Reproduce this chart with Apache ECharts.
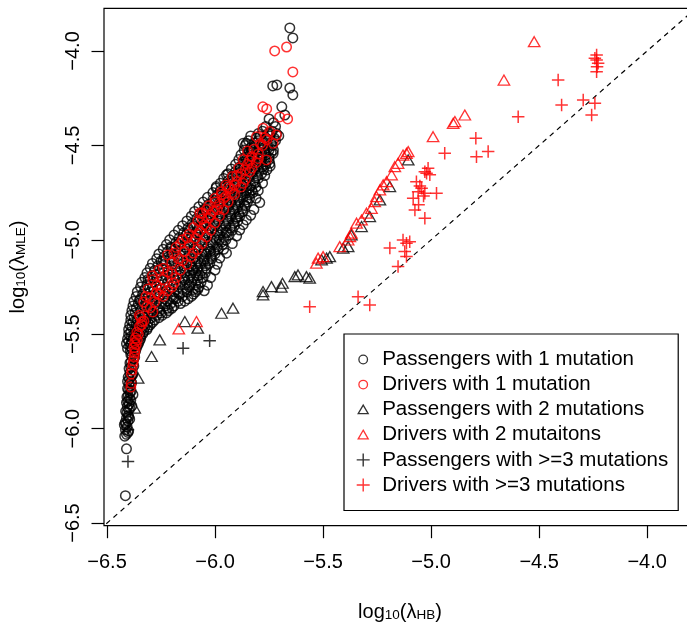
<!DOCTYPE html>
<html><head><meta charset="utf-8">
<script src="https://cdn.jsdelivr.net/npm/echarts@6/dist/echarts.min.js"></script>
<style>html,body{margin:0;padding:0;background:#fff}#c{width:687px;height:629px}</style>
</head><body><div id="c"></div>
<script>
// ---- tick labels ----
const xTicks = [-6.5, -6.0, -5.5, -5.0, -4.5, -4.0];
const yTicks = [-6.5, -6.0, -5.5, -5.0, -4.5, -4.0];
const axisRange = [-6.514, -3.774];
const refLine = [[-7, -7], [-3, -3]];
const seriesNames = ['Passengers with 1 mutation', 'Drivers with 1 mutation', 'Passengers with 2 mutations',
  'Drivers with 2 mutaitons', 'Passengers with >=3 mutations', 'Drivers with >=3 mutations'];

// ---- data: [log10(lambda_HB), log10(lambda_MLE)] ----
const passengers1 = [
[-6.415,-6.355],[-6.41,-6.107],[-6.418,-6.04],[-6.41,-6.03],[-6.403,-6.02],[-6.415,-6.005],[-6.407,-5.99],[-6.412,-5.975],[-6.42,-5.98],
[-6.403,-5.96],[-6.395,-5.95],[-6.41,-5.945],[-6.402,-5.93],[-6.408,-5.915],[-6.40,-5.90],[-6.406,-5.885],[-6.385,-5.88],[-6.398,-5.87],
[-6.404,-5.855],[-6.396,-5.84],[-6.402,-5.825],[-6.38,-5.82],[-6.394,-5.81],[-6.40,-5.795],[-6.392,-5.78],[-6.398,-5.765],[-6.39,-5.75],
[-6.405,-5.75],[-6.396,-5.735],[-6.386,-5.72],[-6.394,-5.705],[-6.384,-5.69],[-6.39,-5.675],[-6.38,-5.66],[-6.388,-5.645],[-6.376,-5.63],
[-6.384,-5.615],[-6.372,-5.60],
[-6.40,-6.012],[-6.416,-5.967],[-6.399,-5.938],[-6.414,-5.908],[-6.393,-5.892],[-6.41,-5.862],[-6.39,-5.848],[-6.408,-5.832],
[-6.388,-5.802],[-6.405,-5.788],[-6.386,-5.757],[-6.402,-5.727],[-6.38,-5.712],[-6.398,-5.682],[-6.376,-5.668],[-6.394,-5.652],
[-6.372,-5.622],[-6.39,-5.607],[-6.368,-5.59],[-6.392,-5.588],
[-6.405,-5.575],[-6.385,-5.575],[-6.365,-5.575],
[-6.41,-5.55],[-6.39,-5.55],[-6.37,-5.55],[-6.355,-5.55],
[-6.405,-5.525],[-6.38,-5.525],[-6.36,-5.525],[-6.345,-5.525],
[-6.40,-5.50],[-6.375,-5.50],[-6.35,-5.50],[-6.335,-5.50],
[-6.40,-5.475],[-6.37,-5.475],[-6.34,-5.475],[-6.315,-5.475],
[-6.395,-5.45],[-6.365,-5.45],[-6.33,-5.45],[-6.30,-5.45],
[-6.39,-5.425],[-6.36,-5.425],[-6.32,-5.425],[-6.28,-5.425],
[-6.39,-5.40],[-6.35,-5.40],[-6.31,-5.40],[-6.27,-5.40],[-6.245,-5.40],
[-6.385,-5.375],[-6.345,-5.375],[-6.30,-5.375],[-6.255,-5.375],[-6.215,-5.375],
[-6.38,-5.35],[-6.33,-5.35],[-6.28,-5.35],[-6.23,-5.35],[-6.19,-5.35],
[-6.375,-5.325],[-6.32,-5.325],[-6.27,-5.325],[-6.22,-5.325],[-6.17,-5.325],[-6.14,-5.325],
[-6.365,-5.30],[-6.31,-5.30],[-6.26,-5.30],[-6.20,-5.30],[-6.15,-5.30],[-6.11,-5.30],
[-6.36,-5.275],[-6.30,-5.275],[-6.24,-5.275],[-6.19,-5.275],[-6.13,-5.275],[-6.09,-5.275],
[-6.345,-5.25],[-6.29,-5.25],[-6.23,-5.25],[-6.17,-5.25],[-6.12,-5.25],[-6.075,-5.25],
[-6.34,-5.225],[-6.28,-5.225],[-6.22,-5.225],[-6.16,-5.225],[-6.11,-5.225],[-6.065,-5.225],
[-6.325,-5.20],[-6.27,-5.20],[-6.21,-5.20],[-6.15,-5.20],[-6.10,-5.20],[-6.055,-5.20],
[-6.315,-5.175],[-6.255,-5.175],[-6.195,-5.175],[-6.14,-5.175],[-6.09,-5.175],[-6.045,-5.175],
[-6.30,-5.15],[-6.245,-5.15],[-6.185,-5.15],[-6.13,-5.15],[-6.08,-5.15],[-6.04,-5.15],
[-6.29,-5.125],[-6.23,-5.125],[-6.17,-5.125],[-6.115,-5.125],[-6.065,-5.125],[-6.025,-5.125],
[-6.27,-5.10],[-6.21,-5.10],[-6.16,-5.10],[-6.10,-5.10],[-6.05,-5.10],[-6.015,-5.10],
[-6.26,-5.075],[-6.20,-5.075],[-6.14,-5.075],[-6.09,-5.075],[-6.04,-5.075],[-6.00,-5.075],
[-6.24,-5.05],[-6.185,-5.05],[-6.13,-5.05],[-6.075,-5.05],[-6.025,-5.05],[-5.985,-5.05],
[-6.225,-5.025],[-6.17,-5.025],[-6.115,-5.025],[-6.06,-5.025],[-6.01,-5.025],[-5.965,-5.025],
[-6.21,-5.00],[-6.155,-5.00],[-6.10,-5.00],[-6.05,-5.00],[-5.995,-5.00],[-5.95,-5.00],
[-6.19,-4.975],[-6.135,-4.975],[-6.08,-4.975],[-6.03,-4.975],[-5.98,-4.975],[-5.935,-4.975],
[-6.17,-4.95],[-6.12,-4.95],[-6.065,-4.95],[-6.015,-4.95],[-5.965,-4.95],[-5.92,-4.95],
[-6.15,-4.925],[-6.10,-4.925],[-6.05,-4.925],[-6.00,-4.925],[-5.95,-4.925],[-5.91,-4.925],
[-6.13,-4.90],[-6.08,-4.90],[-6.03,-4.90],[-5.985,-4.90],[-5.94,-4.90],[-5.895,-4.90],
[-6.11,-4.875],[-6.06,-4.875],[-6.015,-4.875],[-5.97,-4.875],[-5.925,-4.875],[-5.885,-4.875],
[-6.095,-4.85],[-6.045,-4.85],[-6.00,-4.85],[-5.955,-4.85],[-5.91,-4.85],[-5.87,-4.85],
[-6.075,-4.825],[-6.025,-4.825],[-5.98,-4.825],[-5.94,-4.825],[-5.895,-4.825],
[-6.055,-4.80],[-6.01,-4.80],[-5.965,-4.80],[-5.925,-4.80],[-5.885,-4.80],[-5.85,-4.80],
[-6.035,-4.775],[-5.99,-4.775],[-5.95,-4.775],[-5.91,-4.775],[-5.87,-4.775],
[-6.01,-4.75],[-5.97,-4.75],[-5.93,-4.75],[-5.895,-4.75],[-5.855,-4.75],[-5.825,-4.75],
[-5.995,-4.725],[-5.955,-4.725],[-5.915,-4.725],[-5.875,-4.725],[-5.84,-4.725],
[-5.975,-4.70],[-5.935,-4.70],[-5.895,-4.70],[-5.86,-4.70],[-5.815,-4.70],
[-5.96,-4.675],[-5.92,-4.675],[-5.88,-4.675],[-5.845,-4.675],[-5.80,-4.675],
[-5.947,-4.656],[-5.94,-4.65],[-5.90,-4.65],[-5.865,-4.65],[-5.83,-4.65],[-5.785,-4.65],
[-5.925,-4.625],[-5.885,-4.625],[-5.85,-4.625],[-5.815,-4.625],[-5.775,-4.625],
[-5.905,-4.60],[-5.87,-4.60],[-5.835,-4.60],[-5.80,-4.60],[-5.765,-4.60],[-5.747,-4.595],
[-5.89,-4.575],[-5.855,-4.575],[-5.82,-4.575],[-5.785,-4.575],[-5.75,-4.575],
[-5.88,-4.55],[-5.84,-4.55],[-5.80,-4.55],[-5.765,-4.55],[-5.731,-4.542],[-5.831,-4.533],
[-5.865,-4.525],[-5.83,-4.525],[-5.79,-4.525],[-5.75,-4.525],[-5.73,-4.525],
[-5.86,-4.50],[-5.815,-4.50],[-5.775,-4.50],[-5.735,-4.50],[-5.855,-4.489],
[-5.845,-4.475],[-5.80,-4.475],[-5.76,-4.475],[-5.72,-4.475],
[-5.835,-4.45],[-5.79,-4.45],[-5.745,-4.45],[-5.705,-4.45],
[-5.78,-4.425],[-5.735,-4.425],[-5.765,-4.40],[-5.72,-4.40],[-5.73,-4.38],[-5.75,-4.36],
[-5.677,-4.339],[-5.691,-4.296],[-5.640,-4.233],[-5.654,-4.196],[-5.733,-4.185],[-5.714,-4.180],
[-5.640,-3.931],[-5.654,-3.878],
[-6.395,-5.5625],[-6.375,-5.5625],[-6.36,-5.5625],
[-6.40,-5.5375],[-6.385,-5.5375],[-6.365,-5.5375],[-6.35,-5.5375],
[-6.39,-5.5125],[-6.37,-5.5125],[-6.345,-5.5125],
[-6.39,-5.4875],[-6.36,-5.4875],[-6.33,-5.4875],
[-6.385,-5.4625],[-6.355,-5.4625],[-6.325,-5.4625],[-6.31,-5.4625],
[-6.38,-5.4375],[-6.345,-5.4375],[-6.31,-5.4375],[-6.29,-5.4375],
[-6.375,-5.4125],[-6.33,-5.4125],[-6.295,-5.4125],[-6.26,-5.4125],
[-6.37,-5.3875],[-6.325,-5.3875],[-6.285,-5.3875],[-6.25,-5.3875],[-6.225,-5.3875],
[-6.365,-5.3625],[-6.31,-5.3625],[-6.265,-5.3625],[-6.22,-5.3625],[-6.20,-5.3625],
[-6.355,-5.3375],[-6.30,-5.3375],[-6.25,-5.3375],[-6.205,-5.3375],[-6.16,-5.3375],
[-6.345,-5.3125],[-6.29,-5.3125],[-6.235,-5.3125],[-6.18,-5.3125],[-6.125,-5.3125],
[-6.335,-5.2875],[-6.28,-5.2875],[-6.225,-5.2875],[-6.165,-5.2875],[-6.10,-5.2875],
[-6.325,-5.2625],[-6.265,-5.2625],[-6.21,-5.2625],[-6.15,-5.2625],[-6.10,-5.2625],[-6.08,-5.2625],
[-6.315,-5.2375],[-6.255,-5.2375],[-6.195,-5.2375],[-6.14,-5.2375],[-6.09,-5.2375],
[-6.30,-5.2125],[-6.245,-5.2125],[-6.185,-5.2125],[-6.125,-5.2125],[-6.08,-5.2125],
[-6.29,-5.1875],[-6.23,-5.1875],[-6.17,-5.1875],[-6.115,-5.1875],[-6.07,-5.1875],
[-6.28,-5.1625],[-6.215,-5.1625],[-6.16,-5.1625],[-6.105,-5.1625],[-6.06,-5.1625],
[-6.265,-5.1375],[-6.20,-5.1375],[-6.145,-5.1375],[-6.09,-5.1375],[-6.045,-5.1375],
[-6.25,-5.1125],[-6.19,-5.1125],[-6.13,-5.1125],[-6.08,-5.1125],[-6.035,-5.1125],
[-6.235,-5.0875],[-6.175,-5.0875],[-6.12,-5.0875],[-6.065,-5.0875],[-6.02,-5.0875],
[-6.22,-5.0625],[-6.16,-5.0625],[-6.105,-5.0625],[-6.05,-5.0625],[-6.005,-5.0625],
[-6.205,-5.0375],[-6.14,-5.0375],[-6.085,-5.0375],[-6.035,-5.0375],[-5.99,-5.0375],
[-6.18,-5.0125],[-6.125,-5.0125],[-6.07,-5.0125],[-6.02,-5.0125],[-5.97,-5.0125],
[-6.165,-4.9875],[-6.11,-4.9875],[-6.055,-4.9875],[-6.005,-4.9875],[-5.96,-4.9875],
[-6.145,-4.9625],[-6.09,-4.9625],[-6.04,-4.9625],[-5.99,-4.9625],[-5.945,-4.9625],
[-6.125,-4.9375],[-6.075,-4.9375],[-6.025,-4.9375],[-5.975,-4.9375],[-5.93,-4.9375],
[-6.105,-4.9125],[-6.055,-4.9125],[-6.005,-4.9125],[-5.96,-4.9125],[-5.915,-4.9125],
[-6.085,-4.8875],[-6.04,-4.8875],[-5.99,-4.8875],[-5.945,-4.8875],[-5.905,-4.8875],
[-6.07,-4.8625],[-6.02,-4.8625],[-5.975,-4.8625],[-5.93,-4.8625],[-5.89,-4.8625],
[-6.05,-4.8375],[-6.00,-4.8375],[-5.96,-4.8375],[-5.915,-4.8375],[-5.875,-4.8375],
[-6.03,-4.8125],[-5.985,-4.8125],[-5.945,-4.8125],[-5.905,-4.8125],[-5.865,-4.8125],
[-6.01,-4.7875],[-5.97,-4.7875],[-5.93,-4.7875],[-5.89,-4.7875],[-5.855,-4.7875],
[-5.99,-4.7625],[-5.95,-4.7625],[-5.91,-4.7625],[-5.875,-4.7625],[-5.84,-4.7625],
[-5.975,-4.7375],[-5.935,-4.7375],[-5.895,-4.7375],[-5.855,-4.7375],[-5.83,-4.7375],
[-5.955,-4.7125],[-5.915,-4.7125],[-5.875,-4.7125],[-5.835,-4.7125],
[-5.94,-4.6875],[-5.90,-4.6875],[-5.86,-4.6875],[-5.82,-4.6875],
[-5.92,-4.6625],[-5.88,-4.6625],[-5.845,-4.6625],[-5.805,-4.6625],
[-5.905,-4.6375],[-5.865,-4.6375],[-5.83,-4.6375],[-5.795,-4.6375],
[-5.885,-4.6125],[-5.85,-4.6125],[-5.815,-4.6125],[-5.78,-4.6125],
[-5.87,-4.5875],[-5.835,-4.5875],[-5.80,-4.5875],[-5.765,-4.5875],
[-5.86,-4.5625],[-5.82,-4.5625],[-5.785,-4.5625],[-5.75,-4.5625],
[-5.845,-4.5375],[-5.81,-4.5375],[-5.77,-4.5375],[-5.74,-4.5375],
[-5.835,-4.5125],[-5.795,-4.5125],[-5.755,-4.5125],
[-5.82,-4.4875],[-5.78,-4.4875],[-5.74,-4.4875],
[-5.81,-4.4625],[-5.765,-4.4625],[-5.725,-4.4625],
[-5.80,-4.4375],[-5.755,-4.4375],[-5.715,-4.4375],
[-5.793,-4.803],[-5.81,-4.78],[-5.82,-4.84],[-5.855,-4.895],[-5.87,-4.92],[-5.886,-4.948],[-5.90,-4.98],
[-5.92,-5.02],[-5.947,-5.071],[-5.978,-5.097],[-5.99,-5.13],[-6.00,-5.16],[-6.02,-5.20],[-5.80,-4.74],
[-5.78,-4.70],[-5.77,-4.66],[-5.76,-4.63],[-5.745,-4.61],[-5.835,-4.87],[-5.96,-5.05],[-6.035,-5.24],[-6.05,-5.27],
[-6.202,-5.044],[-6.048,-4.842],[-5.994,-4.718],[-5.870,-4.489],[-6.24,-5.11],[-6.31,-5.21],[-6.35,-5.32],
[-6.17,-5.28],[-6.12,-5.24],[-6.08,-5.19],[-6.14,-5.21],[-6.19,-5.31],[-6.10,-5.16],[-6.05,-5.11],[-6.11,-5.14],
[-6.02,-5.06],[-5.98,-5.00],[-5.95,-4.96],[-5.90,-4.88],[-5.86,-4.82],[-5.84,-4.78],[-5.81,-4.72]
];
const drivers1 = [
[-6.39,-5.78],[-6.388,-5.76],[-6.387,-5.71],[-6.385,-5.69],[-6.38,-5.66],[-6.378,-5.64],[-6.375,-5.62],[-6.372,-5.60],
[-6.37,-5.585],[-6.375,-5.57],[-6.365,-5.555],[-6.372,-5.545],[-6.36,-5.53],[-6.368,-5.52],[-6.355,-5.50],[-6.362,-5.49],
[-6.35,-5.46],[-6.34,-5.45],[-6.339,-5.435],[-6.33,-5.43],[-6.345,-5.41],[-6.288,-5.382],[-6.316,-5.355],
[-6.33,-5.33],[-6.30,-5.31],[-6.26,-5.29],[-6.27,-5.28],[-6.22,-5.27],[-6.31,-5.26],[-6.27,-5.24],[-6.19,-5.23],
[-6.24,-5.21],[-6.288,-5.212],[-6.29,-5.19],[-6.20,-5.18],[-6.16,-5.16],[-6.24,-5.15],[-6.13,-5.13],[-6.20,-5.12],
[-6.17,-5.10],[-6.11,-5.09],[-6.22,-5.08],[-6.14,-5.06],[-6.08,-5.05],[-6.18,-5.04],[-6.12,-5.03],[-6.06,-5.02],
[-6.15,-5.00],[-6.09,-4.99],[-6.04,-4.985],[-6.12,-4.97],[-6.07,-4.955],[-6.02,-4.95],[-6.10,-4.935],[-6.05,-4.92],
[-6.00,-4.91],[-6.08,-4.90],[-6.03,-4.885],[-5.98,-4.875],[-6.06,-4.86],[-6.01,-4.85],[-6.07,-4.858],[-5.96,-4.84],
[-6.03,-4.82],[-5.98,-4.81],[-5.94,-4.80],[-6.00,-4.78],[-5.95,-4.77],[-5.91,-4.76],[-5.97,-4.745],[-5.93,-4.73],
[-5.88,-4.72],[-5.95,-4.71],[-5.90,-4.69],[-5.86,-4.68],[-5.92,-4.665],[-5.88,-4.65],[-5.84,-4.64],[-5.89,-4.62],
[-5.85,-4.60],[-5.81,-4.59],[-5.87,-4.575],[-5.762,-4.577],[-5.83,-4.56],[-5.80,-4.545],[-5.85,-4.53],[-5.79,-4.49],
[-5.731,-4.489],[-5.76,-4.47],[-5.808,-4.454],[-5.716,-4.445],[-5.747,-4.427],[-5.778,-4.409],
[-5.664,-4.360],[-5.701,-4.349],[-5.761,-4.307],[-5.779,-4.296],[-5.640,-4.111],[-5.724,-4.000],[-5.669,-3.979],
[-6.35,-5.40],[-6.30,-5.36],[-6.28,-5.33],[-6.24,-5.30],[-6.32,-5.30],[-6.20,-5.25],[-6.25,-5.26],[-6.18,-5.20],
[-6.22,-5.17],[-6.26,-5.16],[-6.15,-5.11],[-6.19,-5.07],[-6.10,-5.07],[-6.16,-5.02],[-6.13,-4.99],[-6.08,-4.97],
[-6.04,-4.93],[-6.06,-4.89],[-6.02,-4.87],[-6.04,-4.84],[-5.99,-4.84],[-6.00,-4.80],[-5.96,-4.78],[-5.97,-4.76],
[-5.92,-4.75],[-5.94,-4.72],[-5.91,-4.71],[-5.87,-4.70],[-5.90,-4.66],[-5.86,-4.63],[-5.83,-4.62],[-5.84,-4.58],
[-5.80,-4.57],[-5.82,-4.52],[-5.78,-4.50],[-5.77,-4.46]
];
const passengers2 = [
[-6.372,-5.891],[-6.356,-5.733],[-6.294,-5.618],[-6.256,-5.530],[-6.140,-5.433],[-6.080,-5.468],[-5.970,-5.389],
[-5.917,-5.362],[-5.778,-5.292],[-5.778,-5.274],[-5.739,-5.248],[-5.688,-5.230],[-5.693,-5.251],[-5.631,-5.195],
[-5.616,-5.186],[-5.577,-5.195],[-5.562,-5.203],[-5.507,-5.106],[-5.484,-5.097],[-5.469,-5.089],[-5.407,-5.044],
[-5.384,-5.036],[-5.369,-4.974],[-5.322,-4.930],[-5.284,-4.877],[-5.237,-4.789],[-5.191,-4.718],[-5.106,-4.577]
];
const drivers2 = [
[-6.168,-5.472],[-6.086,-5.433],[-5.531,-5.124],[-5.523,-5.097],[-5.500,-5.089],[-5.423,-5.036],[-5.384,-5.001],
[-5.376,-4.983],[-5.369,-4.965],[-5.345,-4.912],[-5.322,-4.895],[-5.299,-4.859],[-5.276,-4.833],[-5.261,-4.798],
[-5.253,-4.771],[-5.237,-4.736],[-5.222,-4.709],[-5.206,-4.692],[-5.183,-4.656],[-5.168,-4.613],[-5.153,-4.595],
[-5.130,-4.551],[-5.114,-4.542],[-5.106,-4.533],[-4.991,-4.454],[-4.898,-4.383],[-4.890,-4.374],[-4.844,-4.339],
[-4.663,-4.154],[-4.523,-3.951]
];
const passengers3 = [
[-6.403,-6.006],[-6.403,-6.174],[-6.148,-5.574],[-6.025,-5.535]
];
const drivers3 = [
[-5.562,-5.354],[-5.338,-5.301],[-5.284,-5.345],[-5.153,-5.142],[-5.191,-5.044],[-5.130,-5.001],[-5.114,-5.018],
[-5.099,-5.010],[-5.122,-5.062],[-5.114,-5.089],[-5.029,-4.886],[-5.075,-4.842],[-5.083,-4.780],[-5.060,-4.745],
[-5.044,-4.727],[-5.029,-4.753],[-4.975,-4.753],[-5.068,-4.692],[-5.021,-4.647],[-5.014,-4.621],[-5.006,-4.656],
[-5.029,-4.639],[-5.052,-4.715],[-5.035,-4.768],[-5.058,-4.815],[-4.937,-4.542],[-4.790,-4.560],[-4.736,-4.533],
[-4.793,-4.462],[-4.597,-4.348],[-4.396,-4.286],[-4.412,-4.154],[-4.296,-4.259],[-4.242,-4.277],[-4.257,-4.339],
[-4.234,-4.021],[-4.234,-4.048],[-4.227,-4.065],[-4.232,-4.083],[-4.234,-4.110],[-4.242,-4.039]
];

// ---- chart ----
const FONT = '"Liberation Sans", Arial, Helvetica, sans-serif';
const plusPath = 'path://M0,-6L0,6M-6,0L6,0';
const legCircle = 'path://M-6.5,-6.5M6.5,6.5M4.3,0A4.3,4.3,0,1,1,-4.3,0A4.3,4.3,0,1,1,4.3,0Z';
const legTri = 'path://M-6.5,-6.5M6.5,6.5M0,-4.6L5,4L-5,4Z';
const fmt = v => (v < 0 ? '\u2212' : '') + Math.abs(v).toFixed(1);
const rich = {
  m: {fontSize: 20, lineHeight: 20, verticalAlign: 'top', fontFamily: FONT, color: '#000'},
  s: {fontSize: 13.5, lineHeight: 9, verticalAlign: 'bottom', fontFamily: FONT, color: '#000'}
};
function scatter(name, data, symbol, size, color, bw) {
  return {
    name, type: 'scatter', data, symbol, symbolSize: size, silent: true,
    itemStyle: {color: 'transparent', borderColor: color, borderWidth: bw},
    emphasis: {disabled: true}
  };
}
const chart = echarts.init(document.getElementById('c'), null, {renderer: 'canvas'});
chart.setOption({
  animation: false,
  backgroundColor: '#fff',
  grid: {left: 104, top: 8.3, right: -9, bottom: 103.3, show: true, borderColor: '#000', borderWidth: 1.2,
         backgroundColor: 'transparent', containLabel: false, outerBoundsMode: 'none'},
  xAxis: {
    type: 'value', min: axisRange[0], max: axisRange[1],
    axisLine: {show: false}, splitLine: {show: false},
    axisTick: {show: true, length: 12.5, customValues: xTicks, lineStyle: {color: '#000', width: 1.2}},
    axisLabel: {customValues: xTicks, formatter: fmt, fontSize: 20, color: '#000', fontFamily: FONT, margin: 27},
    name: '{m|log}{s|10}{m|(\u03bb}{s|HB}{m|)}', nameLocation: 'middle', nameGap: 77,
    nameTextStyle: {rich}
  },
  yAxis: {
    type: 'value', min: axisRange[0], max: axisRange[1],
    axisLine: {show: false}, splitLine: {show: false},
    axisTick: {show: true, length: 12.5, customValues: yTicks, lineStyle: {color: '#000', width: 1.2}},
    axisLabel: {customValues: yTicks, formatter: fmt, fontSize: 20, color: '#000', fontFamily: FONT, rotate: 90, margin: 21},
    name: '{m|log}{s|10}{m|(\u03bb}{s|MLE}{m|)}', nameLocation: 'middle', nameGap: 76, nameRotate: 90,
    nameTextStyle: {rich}
  },
  legend: {
    orient: 'vertical', left: 344, top: 334, padding: [15, 10, 15, 12], itemGap: 4.1,
    itemWidth: 28, itemHeight: 13, borderColor: '#000', borderWidth: 1.2, backgroundColor: '#fff',
    textStyle: {fontSize: 20.5, color: '#000', fontFamily: FONT},
    selectedMode: false,
    data: [
      {name: seriesNames[0], icon: legCircle, itemStyle: {borderWidth: 1.3}},
      {name: seriesNames[1], icon: legCircle, itemStyle: {borderWidth: 1.3}},
      {name: seriesNames[2], icon: legTri, itemStyle: {borderWidth: 1.3}},
      {name: seriesNames[3], icon: legTri, itemStyle: {borderWidth: 1.3}},
      {name: seriesNames[4], icon: plusPath, itemStyle: {borderWidth: 1.4}},
      {name: seriesNames[5], icon: plusPath, itemStyle: {borderWidth: 1.4}}
    ]
  },
  series: [
    {type: 'line', data: refLine, symbol: 'none', silent: true, clip: true,
     lineStyle: {color: '#000', width: 1.2, type: [5, 4.5]}, z: 1},
    scatter(seriesNames[0], passengers1, 'circle', 9.5, '#000', 1.5),
    scatter(seriesNames[1], drivers1, 'circle', 9.5, '#ff0000', 1.5),
    scatter(seriesNames[2], passengers2, 'triangle', [11.5, 10], '#000', 1.3),
    scatter(seriesNames[3], drivers2, 'triangle', [11.5, 10], '#ff0000', 1.3),
    scatter(seriesNames[4], passengers3, plusPath, 12.5, '#000', 1.5),
    scatter(seriesNames[5], drivers3, plusPath, 12.5, '#ff0000', 1.5)
  ]
});
</script>
</body></html>
